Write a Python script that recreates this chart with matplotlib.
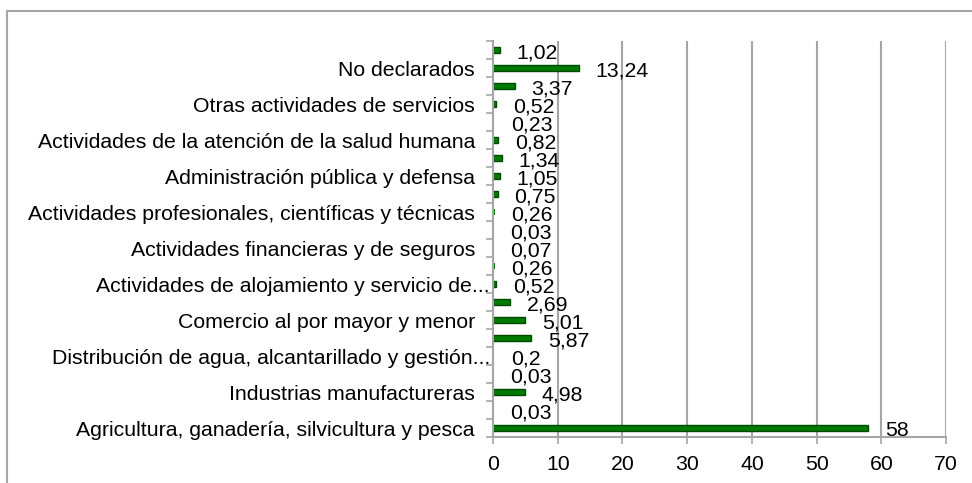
import matplotlib.pyplot as plt
from matplotlib.lines import Line2D
from matplotlib.transforms import ScaledTranslation

plt.rcParams['font.family'] = ['Liberation Sans', 'DejaVu Sans']

# valores de abajo hacia arriba (22 barras, etiqueta cada dos)
valores = [58, 0.03, 4.98, 0.03, 0.2, 5.87, 5.01, 2.69, 0.52, 0.26, 0.07,
           0.03, 0.26, 0.75, 1.05, 1.34, 0.82, 0.23, 0.52, 3.37, 13.24, 1.02]
etiquetas = ["Agricultura, ganadería, silvicultura y pesca",
             "Industrias manufactureras",
             "Distribución de agua, alcantarillado y gestión...",
             "Comercio al por mayor y menor",
             "Actividades de alojamiento y servicio de...",
             "Actividades financieras y de seguros",
             "Actividades profesionales, científicas y técnicas",
             "Administración pública y defensa",
             "Actividades de la atención de la salud humana",
             "Otras actividades de servicios",
             "No declarados"]
xticks = [0, 10, 20, 30, 40, 50, 60, 70]

gris = '#a6a6a6'
fs = 15.3

fig = plt.figure(figsize=(9.72, 4.83), dpi=100)
ax = fig.add_axes([0.5072, 0.0952, 0.4661, 0.8199])

pos = list(range(len(valores)))
bordes = ['#004a00' if v >= 0.5 else 'none' for v in valores]
ax.barh(pos, valores, height=0.33, color='#007a00', edgecolor=bordes, linewidth=1)

for p, v in zip(pos, valores):
    ax.annotate(f"{v:g}".replace('.', ','), (v, p), xytext=(12, -2),
                textcoords='offset points', va='center', ha='left', fontsize=fs)

ax.set_xlim(0, 70)
ax.set_ylim(-0.5, len(valores) - 0.5)
ax.set_xticks(xticks)
ax.set_xticklabels([str(t) for t in xticks], fontsize=fs)
ax.xaxis.grid(True, color=gris, linewidth=1.5)
ax.set_axisbelow(True)

ax.set_yticks(pos[::2])
ax.set_yticklabels(etiquetas, fontsize=fs)
ax.set_yticks([p - 0.5 for p in range(len(valores) + 1)], minor=True)
ax.tick_params(axis='y', which='major', length=0, pad=13)
ax.tick_params(axis='y', which='minor', length=5, color=gris, width=1.2)
ax.tick_params(axis='x', length=5, color=gris, width=1.2, pad=8)

# las etiquetas recortadas llegan hasta el eje
for lbl in ax.get_yticklabels():
    if lbl.get_text().endswith('...'):
        lbl.set_transform(lbl.get_transform() + ScaledTranslation(15/72*0.72, 0, fig.dpi_scale_trans))

for s in ['top', 'right']:
    ax.spines[s].set_visible(False)
for s in ['left', 'bottom']:
    ax.spines[s].set_color(gris)
    ax.spines[s].set_linewidth(1.5)

# marco exterior del gráfico
fig.add_artist(Line2D([7/972, 1], [1 - 11/483, 1 - 11/483], color=gris, linewidth=1.5))
fig.add_artist(Line2D([7/972, 7/972], [0, 1 - 11/483], color=gris, linewidth=1.5))

fig.savefig('out.png', dpi=100)
